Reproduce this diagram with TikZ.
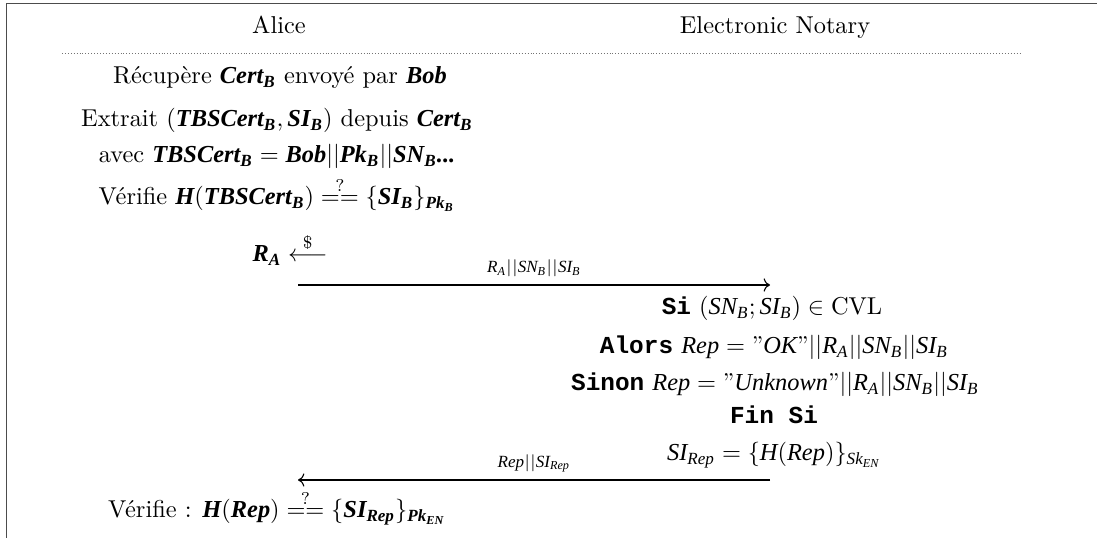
\documentclass[tikz,border=0pt]{standalone}
\usepackage{amsmath}
\usepackage{fontspec}
\newfontfamily\tms{Liberation Serif}
\newfontfamily\cour{Liberation Mono}
\usetikzlibrary{arrows.meta}
\newcommand\vi[1]{\text{\tms\itshape #1}}
\newcommand\vb[1]{\text{\tms\bfseries\itshape #1}}
\newcommand\kw[1]{{\cour\bfseries #1}}
\newcommand\qq{\text{''}}
\begin{document}
\begin{tikzpicture}[x=0.4098pt,y=-0.4098pt,
  txt/.style={anchor=base, inner sep=0pt, font=\fontsize{10}{12}\selectfont},
  lbl/.style={anchor=base, inner sep=0pt, font=\scriptsize},
  msg/.style={line width=0.45pt, ->},
  frame/.style={line width=0.8pt, black!70},
  sep/.style={line width=0.4pt, black!55, dash pattern=on 0.4pt off 0.8pt}]
\useasboundingbox (0,0) rectangle (1097,538);
% frame
\draw[frame] (1097,3.5) -- (6.5,3.5) -- (6.5,538);
% headers
\node[txt] (alice) at (279,34) {Alice};
\node[txt] (en) at (775,34) {Electronic Notary};
\draw[sep] (62,53) -- (1020,53);
% Alice column
\node[txt] (a1) at (280,84) {Récupère $\vb{Cert}_{\vb{B}}$ envoyé par $\vb{Bob}$};
\node[txt] (a2) at (277,127) {Extrait $(\vb{TBSCert}_{\vb{B}},\vb{SI}_{\vb{B}})$ depuis $\vb{Cert}_{\vb{B}}$};
\node[txt] (a3) at (277,163) {avec $\vb{TBSCert}_{\vb{B}} = \vb{Bob}||\vb{Pk}_{\vb{B}}||\vb{SN}_{\vb{B}}\vb{...}$};
\node[txt] (a4) at (277,205) {Vérifie $\vb{H}(\vb{TBSCert}_{\vb{B}}) \stackrel{?}{==} \{\vb{SI}_{\vb{B}}\}_{\vb{Pk}_{\vb{B}}}$};
\node[txt] (a5) at (290,262) {$\vb{R}_{\vb{A}} \stackrel{\$}{\longleftarrow}$};
% message 1
\coordinate (m1s) at (298,285);
\coordinate (m1e) at (770,285);
\draw[msg] (m1s) -- node[lbl, above=3pt] (l1) {$\vi{R}_{\vi{A}}||\vi{SN}_{\vi{B}}||\vi{SI}_{\vi{B}}$} (m1e);
% Notary column
\node[txt] (n1) at (772,315) {\kw{Si} $(\vi{SN}_{\vi{B}};\vi{SI}_{\vi{B}}) \in \mathrm{CVL}$};
\node[txt] (n2) at (774,354) {\kw{Alors} $\vi{Rep} = \qq\vi{OK}\qq||\vi{R}_{\vi{A}}||\vi{SN}_{\vi{B}}||\vi{SI}_{\vi{B}}$};
\node[txt] (n3) at (775,391) {\kw{Sinon} $\vi{Rep} = \qq\vi{Unknown}\qq||\vi{R}_{\vi{A}}||\vi{SN}_{\vi{B}}||\vi{SI}_{\vi{B}}$};
\node[txt] (n4) at (774,424) {\kw{Fin Si}};
\node[txt] (n5) at (774,461) {$\vi{SI}_{\vi{Rep}} = \{\vi{H}(\vi{Rep})\}_{\vi{Sk}_{\vi{EN}}}$};
% message 2
\coordinate (m2s) at (770,480);
\coordinate (m2e) at (298,480);
\draw[msg] (m2s) -- node[lbl, above=3pt] (l2) {$\vi{Rep}||\vi{SI}_{\vi{Rep}}$} (m2e);
% final check
\node[txt] (a6) at (277,518) {Vérifie : $\vb{H}(\vb{Rep}) \stackrel{?}{==} \{\vb{SI}_{\vb{Rep}}\}_{\vb{Pk}_{\vb{EN}}}$};
\end{tikzpicture}
\end{document}
